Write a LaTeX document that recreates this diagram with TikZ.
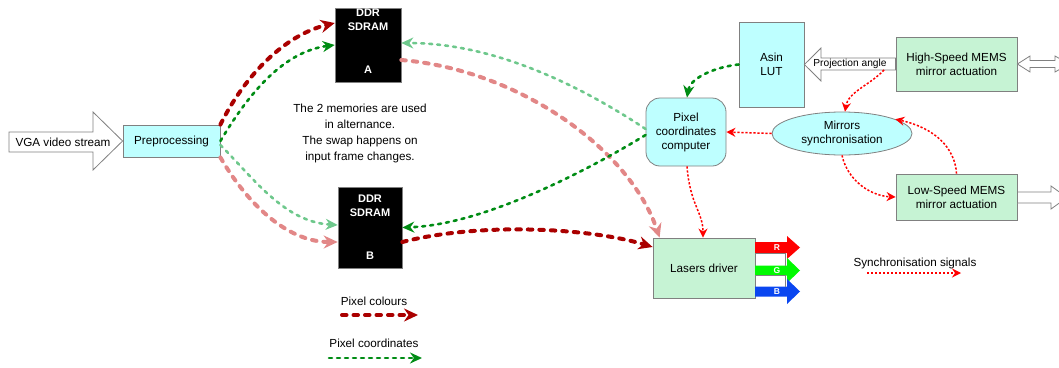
\documentclass[tikz,border=0pt]{standalone}
\usepackage{fontspec}
\setmainfont{Liberation Sans}
\usetikzlibrary{arrows.meta,shapes.geometric,calc}
\definecolor{dred}{RGB}{170,0,0}
\definecolor{pinkc}{RGB}{226,135,135}
\definecolor{dgreen}{RGB}{0,140,20}
\definecolor{lgreen}{RGB}{110,200,140}
\definecolor{cyanf}{RGB}{190,255,255}
\definecolor{mintf}{RGB}{198,243,212}
\definecolor{bord}{RGB}{128,128,128}
\definecolor{sigred}{RGB}{255,0,0}
\definecolor{bluef}{RGB}{10,70,240}
\definecolor{greenf}{RGB}{0,250,0}
\begin{document}
\begin{tikzpicture}[x=1pt,y=-1pt,
  txt/.style={font=\fontsize{11.7}{14}\selectfont, align=center, inner sep=0pt},
  cbox/.style={draw=bord, fill=cyanf, line width=0.8pt, inner sep=0pt, txt},
  gbox/.style={draw=bord, fill=mintf, line width=0.8pt, inner sep=0pt, txt},
  mem/.style={fill=black, draw=bord, line width=0.6pt, inner sep=0pt},
  memtxt/.style={text=white, font=\bfseries\fontsize{11}{14}\selectfont, align=center, inner sep=0pt},
  blockarr/.style={draw=bord, fill=white, line width=0.8pt, line join=miter},
  colflow/.style={line width=4pt, line cap=round, dash pattern=on 4.5pt off 7pt, -{Stealth[length=14pt,width=13pt]}},
  coordflow/.style={line width=2.6pt, line cap=round, dash pattern=on 3pt off 5pt, -{Stealth[length=12pt,width=11pt]}},
  sigflow/.style={sigred, line width=1.5pt, dash pattern=on 2.2pt off 1.8pt, -{Stealth[length=9pt,width=9pt]}},
  rgbtxt/.style={text=white, font=\bfseries\fontsize{8.5}{10}\selectfont, inner sep=0pt}
]
\useasboundingbox (0,0) rectangle (1059,367);
\clip (0,0) rectangle (1059,367);

% nodes
\node[cbox, minimum width=97pt, minimum height=32pt] (pre) at (171.5,141) {Preprocessing};
\node[mem, minimum width=66pt, minimum height=74pt] (ddrA) at (368,45) {};
\node[memtxt] (ddrAt) at (368,20) {DDR\\SDRAM};
\node[memtxt] (ddrAl) at (368,70) {A};
\node[mem, minimum width=64pt, minimum height=81pt] (ddrB) at (370,227.5) {};
\node[memtxt] (ddrBt) at (370,206) {DDR\\SDRAM};
\node[memtxt] (ddrBl) at (370,256) {B};
\node[txt, font=\fontsize{11.7}{15.7}\selectfont] (note) at (360,133.5) {The 2 memories are used\\in alternance.\\The swap happens on\\input frame changes.};
\node[cbox, rounded corners=14pt, minimum width=80pt, minimum height=68pt] (pcc) at (686,132) {Pixel\\coordinates\\computer};
\node[cbox, minimum width=65pt, minimum height=85pt] (asin) at (771.5,64.5) {Asin\\LUT};
\node[gbox, minimum width=121pt, minimum height=54pt] (hs) at (956.5,64) {High-Speed MEMS\\mirror actuation};
\node[ellipse, draw=bord, fill=cyanf, line width=0.8pt, minimum width=140pt, minimum height=43pt, txt] (sync) at (842,133.5) {Mirrors\\synchronisation};
\node[gbox, minimum width=121pt, minimum height=46pt] (low) at (956.5,197) {Low-Speed MEMS\\mirror actuation};
\node[gbox, minimum width=102pt, minimum height=60pt] (las) at (704,268) {Lasers driver};

% block arrows
\draw[blockarr] (9,132) -- (93,132) -- (93,112) -- (pre.west) -- (93,170) -- (93,152) -- (9,152) -- cycle;
\node[txt] (vga) at (63,142) {VGA video stream};
\draw[blockarr] (hs.west |- 0,58) -- (821,58) -- (821,48) -- (asin.east) -- (821,81) -- (821,70) -- (hs.west |- 0,70) -- cycle;
\node[txt, font=\fontsize{10.2}{12}\selectfont] (projl) at (850,64) {Projection angle};
\coordinate (proj) at (884,70);
\draw[blockarr] (hs.east) -- (1030,56) -- (1030,60.5) -- (1055,60.5) -- (1055,56) -- (1069,64) -- (1055,72) -- (1055,67.5) -- (1030,67.5) -- (1030,72) -- cycle;
\draw[blockarr] (low.east |- 0,192) -- (1051,192) -- (1051,186) -- (1067,197.5) -- (1051,209) -- (1051,203) -- (low.east |- 0,203) -- cycle;

% RGB outputs
\fill[sigred] (755,242) -- (787,242) -- (787,236) -- (800,247.5) -- (787,259) -- (787,253) -- (755,253) -- cycle;
\fill[greenf] (755,265.5) -- (787,265.5) -- (787,258) -- (800,270.5) -- (787,283) -- (787,275.5) -- (755,275.5) -- cycle;
\fill[bluef] (755,286.5) -- (787,286.5) -- (787,279) -- (800,291.5) -- (787,304) -- (787,296.5) -- (755,296.5) -- cycle;
\draw[bord, line width=0.6pt] (755,253) -- (785,253) -- (785,265.5);
\draw[bord, line width=0.6pt] (755,275.5) -- (785,275.5) -- (785,286.5);
\node[rgbtxt] (rl) at (777,248) {R};
\node[rgbtxt] (gl) at (777,270.5) {G};
\node[rgbtxt] (bl) at (777,292) {B};

% pixel colour / coordinate flows from preprocessing
\draw[colflow, dred] (pre.north east) .. controls (245,75) and (285,35) .. ($(ddrA.west)+(0,-22)$);
\draw[coordflow, dgreen] (pre.east) .. controls (245,100) and (280,52) .. (ddrA.west);
\draw[coordflow, lgreen] ($(pre.east)+(0,4)$) .. controls (255,180) and (285,222) .. ($(ddrB.west)+(0,-2.5)$);
\draw[colflow, pinkc] (pre.south east) .. controls (245,200) and (285,242) .. ($(ddrB.west)+(0,14.5)$);

% memory <-> computer / lasers
\draw[coordflow, lgreen] ($(pcc.west)+(0,-3)$) .. controls (590,92) and (500,43) .. ($(ddrA.east)+(0,-2)$);
\draw[colflow, pinkc] ($(ddrA.east)+(0,15)$) .. controls (520,70) and (630,150) .. ($(las.north west)+(7,0)$);
\draw[coordflow, dgreen] ($(pcc.west)+(0,3)$) .. controls (580,175) and (480,225) .. (ddrB.east);
\draw[colflow, dred] ($(ddrB.east)+(0,14.5)$) .. controls (480,222) and (590,228) .. ($(las.west)+(0,-21)$);
\draw[coordflow, dgreen] (asin.west) .. controls (715,67) and (690,78) .. ($(pcc.north)+(1,0)$);

% synchronisation signals
\draw[sigflow] ($(pcc.south)+(1,0)$) .. controls (690,205) and (703,212) .. ($(las.north)+(-1,0)$);
\draw[sigflow] (sync.west) -- (pcc.east);
\draw[sigflow] (proj) .. controls (870,85) and (848,92) .. ($(sync.north)+(3,0)$);
\draw[sigflow] (sync.south) .. controls (848,182) and (872,196) .. (low.west);
\draw[sigflow] (low.north) .. controls (955,148) and (935,128) .. (sync.15);

% legends
\node[txt] (lcol) at (374,301) {Pixel colours};
\coordinate (lcolA) at (342,315);
\coordinate (lcolB) at (418,315);
\draw[colflow, dred] (lcolA) -- (lcolB);
\node[txt] (lcoo) at (374,343) {Pixel coordinates};
\coordinate (lcooA) at (329,358);
\coordinate (lcooB) at (422,358);
\draw[coordflow, dgreen] (lcooA) -- (lcooB);
\node[txt] (lsig) at (915,263) {Synchronisation signals};
\coordinate (lsigA) at (867,273);
\coordinate (lsigB) at (961,273);
\draw[sigflow] (lsigA) -- (lsigB);
\end{tikzpicture}
\end{document}
